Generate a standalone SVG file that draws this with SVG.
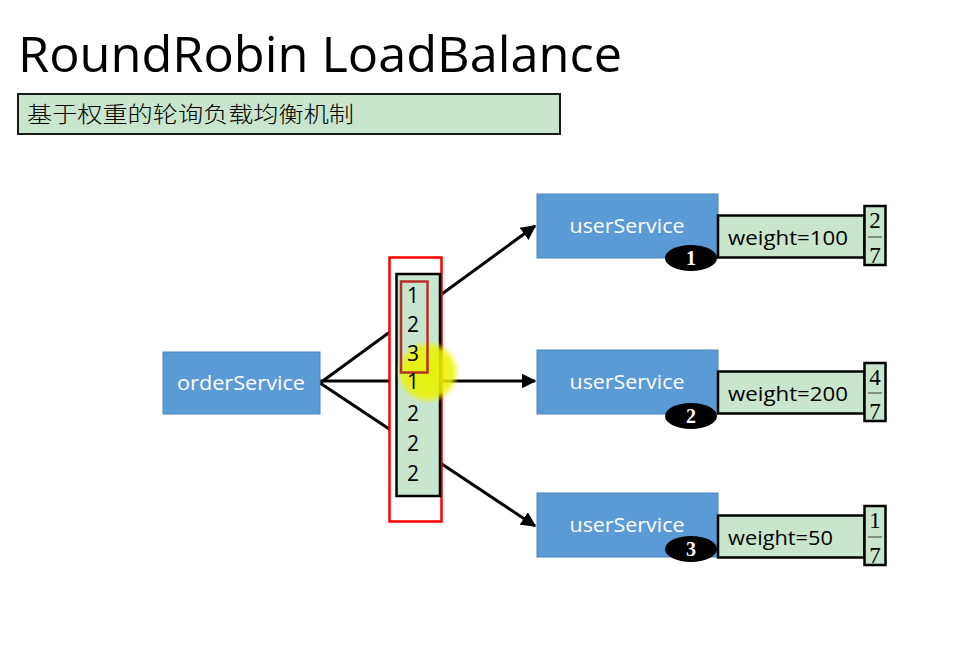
<svg xmlns="http://www.w3.org/2000/svg" width="968" height="647" viewBox="0 0 968 647">
<style>
.svc{fill:#5b9bd5;stroke:#4a86bd;stroke-width:1}
.svct{font-family:"Open Sans","Liberation Sans",sans-serif;font-size:20px;fill:#fff;text-anchor:middle}
.wbox{fill:#c8e6cd;stroke:#000;stroke-width:2.5}
.wt{font-family:"Open Sans","Liberation Sans",sans-serif;font-size:20px;fill:#000}
.frac{font-family:"Liberation Serif",serif;font-size:23px;fill:#000;text-anchor:middle}
.badge{fill:#000}
.bt{font-family:"Liberation Serif",serif;font-weight:bold;font-size:20px;fill:#fff;text-anchor:middle}
.q{font-family:"Open Sans","Liberation Sans",sans-serif;font-size:21px;fill:#000;text-anchor:middle}
.conn{stroke:#000;stroke-width:3;fill:none}
</style>
<defs>
<marker id="ah" viewBox="0 0 10 10" refX="9" refY="5" markerWidth="5" markerHeight="5" orient="auto" markerUnits="strokeWidth">
<path d="M0,0 L10,5 L0,10 z" fill="#000"/>
</marker>
<radialGradient id="hl">
<stop offset="0" stop-color="#e8f000" stop-opacity="0.95"/>
<stop offset="0.75" stop-color="#eaf200" stop-opacity="0.85"/>
<stop offset="1" stop-color="#f0f500" stop-opacity="0"/>
</radialGradient>
</defs>
<rect width="968" height="647" fill="#fff"/>
<g id="title">
<text x="18" y="72" font-family="Open Sans, Liberation Sans, sans-serif" font-size="50" textLength="604" lengthAdjust="spacingAndGlyphs" fill="#000">RoundRobin LoadBalance</text>
</g>
<g id="subtitle">
<rect x="18" y="94" width="542" height="40" fill="#c8e6cd" stroke="#1a1a1a" stroke-width="2"/>
<text x="27" y="122" font-family="Noto Sans CJK SC, sans-serif" font-size="22" font-weight="300" textLength="327" lengthAdjust="spacingAndGlyphs" fill="#000">基于权重的轮询负载均衡机制</text>
</g>
<g id="connectors">
<line class="conn" x1="320" y1="383" x2="535" y2="226" marker-end="url(#ah)"/>
<line class="conn" x1="320" y1="381" x2="535" y2="381" marker-end="url(#ah)"/>
<line class="conn" x1="320" y1="383" x2="535" y2="526" marker-end="url(#ah)"/>
</g>
<g id="queue">
<rect x="389.5" y="257.5" width="52" height="264" fill="#fff" stroke="#ff0000" stroke-width="2.5"/>
<rect x="396.5" y="274" width="43.5" height="222" fill="#c8e6cd" stroke="#000" stroke-width="2.5"/>
<circle cx="428" cy="372" r="32" fill="url(#hl)"/>
<rect x="401" y="281.5" width="26.5" height="91" fill="none" stroke="#b5302a" stroke-width="2.5"/>
<text class="q" x="413" y="303">1</text>
<text class="q" x="413" y="332">2</text>
<text class="q" x="413" y="361">3</text>
<text class="q" x="413" y="389">1</text>
<text class="q" x="413" y="421">2</text>
<text class="q" x="413" y="451">2</text>
<text class="q" x="413" y="481">2</text>
</g>
<g id="orderService">
<rect class="svc" x="163" y="352" width="157" height="62"/>
<text class="svct" x="241" y="390" textLength="128" lengthAdjust="spacingAndGlyphs">orderService</text>
</g>
<g id="userService1">
<rect class="svc" x="537" y="194" width="181" height="64"/>
<text class="svct" x="627" y="233" textLength="115" lengthAdjust="spacingAndGlyphs">userService</text>
<rect class="wbox" x="718" y="215.5" width="146.5" height="42"/>
<text class="wt" x="728" y="245" textLength="120" lengthAdjust="spacingAndGlyphs">weight=100</text>
<rect class="wbox" x="864.5" y="206" width="21" height="59"/>
<text class="frac" x="875" y="228">2</text>
<line x1="868" y1="237" x2="882" y2="237" stroke="#555" stroke-width="1.2"/>
<text class="frac" x="875" y="263">7</text>
<ellipse class="badge" cx="691" cy="258" rx="26" ry="13"/>
<text class="bt" x="691" y="265">1</text>
</g>
<g id="userService2">
<rect class="svc" x="537" y="350" width="181" height="64"/>
<text class="svct" x="627" y="389" textLength="115" lengthAdjust="spacingAndGlyphs">userService</text>
<rect class="wbox" x="718" y="371.5" width="146.5" height="42"/>
<text class="wt" x="728" y="401" textLength="120" lengthAdjust="spacingAndGlyphs">weight=200</text>
<rect class="wbox" x="864.5" y="363" width="21" height="58"/>
<text class="frac" x="875" y="385">4</text>
<line x1="868" y1="393" x2="882" y2="393" stroke="#555" stroke-width="1.2"/>
<text class="frac" x="875" y="419">7</text>
<ellipse class="badge" cx="691" cy="416" rx="26" ry="13"/>
<text class="bt" x="691" y="423">2</text>
</g>
<g id="userService3">
<rect class="svc" x="537" y="493" width="181" height="64"/>
<text class="svct" x="627" y="532" textLength="115" lengthAdjust="spacingAndGlyphs">userService</text>
<rect class="wbox" x="718" y="515.5" width="146.5" height="42"/>
<text class="wt" x="728" y="545" textLength="105" lengthAdjust="spacingAndGlyphs">weight=50</text>
<rect class="wbox" x="864.5" y="506" width="21" height="59"/>
<text class="frac" x="875" y="528">1</text>
<line x1="868" y1="537" x2="882" y2="537" stroke="#555" stroke-width="1.2"/>
<text class="frac" x="875" y="563">7</text>
<ellipse class="badge" cx="691" cy="549" rx="26" ry="13"/>
<text class="bt" x="691" y="556">3</text>
</g>
</svg>
